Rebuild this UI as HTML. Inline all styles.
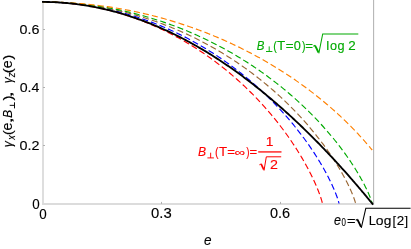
<!DOCTYPE html>
<html><head><meta charset="utf-8"><title>plot</title>
<style>
html,body{margin:0;padding:0;background:#fff;}
body{width:411px;height:249px;overflow:hidden;font-family:"Liberation Sans",sans-serif;}
svg{display:block;will-change:transform;}
text{font-family:"Liberation Sans",sans-serif;font-size:13.5px;fill:#000;stroke:#000;stroke-width:0.12px;}
.i{font-style:italic;}
</style></head><body>
<svg width="411" height="249" viewBox="0 0 411 249">
<rect width="411" height="249" fill="#fff"/>
<rect x="42" y="0.6" width="2" height="204.4" fill="#dedede"/>
<rect x="42" y="203" width="332" height="2" fill="#dcdcdc"/>
<rect x="373" y="0" width="1.15" height="204.6" fill="#b8b8b8"/>
<g fill="#b0b0b0">
<rect x="161" y="201.9" width="1" height="2.1"/>
<rect x="280" y="201.9" width="1" height="2.1"/>
<rect x="43" y="29" width="2" height="1"/>
<rect x="43" y="87" width="2" height="1"/>
<rect x="43" y="145" width="2" height="1"/>
</g>
<path d="M42.00 1.93 L43.47 1.94 L44.94 1.95 L46.40 1.97 L47.87 2.00 L49.34 2.03 L50.81 2.08 L52.28 2.13 L53.74 2.19 L55.21 2.26 L56.68 2.33 L58.14 2.41 L59.61 2.51 L61.07 2.61 L62.54 2.71 L64.00 2.83 L65.47 2.95 L66.93 3.08 L68.39 3.22 L69.85 3.37 L71.31 3.52 L72.77 3.69 L74.23 3.86 L75.69 4.04 L77.15 4.22 L78.60 4.42 L80.06 4.62 L81.51 4.83 L82.97 5.05 L84.42 5.27 L85.87 5.51 L87.32 5.75 L88.77 6.00 L90.22 6.25 L91.66 6.52 L93.11 6.79 L94.55 7.07 L95.99 7.36 L97.43 7.65 L98.87 7.95 L100.31 8.26 L101.74 8.58 L103.18 8.91 L104.61 9.24 L106.04 9.58 L107.47 9.93 L108.89 10.29 L110.32 10.65 L111.74 11.02 L113.16 11.40 L114.58 11.78 L116.00 12.18 L117.42 12.58 L118.83 12.99 L120.24 13.40 L121.65 13.82 L123.06 14.25 L124.46 14.69 L125.86 15.14 L127.26 15.59 L128.66 16.05 L130.06 16.51 L131.45 16.99 L132.84 17.47 L134.23 17.95 L135.61 18.45 L137.00 18.95 L138.38 19.46 L139.75 19.98 L141.13 20.50 L142.50 21.03 L143.87 21.56 L145.24 22.11 L146.60 22.66 L147.96 23.22 L149.32 23.78 L150.67 24.35 L152.03 24.93 L153.38 25.51 L154.72 26.10 L156.06 26.70 L157.40 27.30 L158.74 27.91 L160.07 28.53 L161.40 29.15 L162.73 29.78 L164.06 30.42 L165.38 31.06 L166.69 31.71 L168.01 32.36 L169.32 33.03 L170.62 33.69 L171.93 34.37 L173.23 35.05 L174.52 35.73 L175.81 36.42 L177.10 37.12 L178.39 37.83 L179.67 38.54 L180.95 39.25 L182.22 39.97 L183.49 40.70 L184.75 41.43 L186.02 42.17 L187.27 42.92 L188.53 43.67 L189.78 44.42 L191.02 45.18 L192.27 45.95 L193.50 46.72 L194.74 47.50 L195.97 48.28 L197.19 49.07 L198.41 49.86 L199.63 50.66 L200.84 51.46 L202.05 52.27 L203.25 53.08 L204.45 53.90 L205.65 54.73 L206.84 55.55 L208.02 56.39 L209.20 57.23 L210.38 58.07 L211.55 58.91 L212.72 59.77 L213.88 60.62 L215.04 61.48 L216.19 62.35 L217.34 63.22 L218.49 64.09 L219.62 64.97 L220.76 65.85 L221.89 66.74 L223.01 67.63 L224.13 68.52 L225.24 69.42 L226.35 70.32 L227.46 71.23 L228.56 72.14 L229.65 73.05 L230.74 73.97 L231.82 74.89 L232.90 75.82 L233.97 76.75 L235.04 77.68 L236.10 78.61 L237.16 79.55 L238.21 80.49 L239.26 81.44 L240.30 82.38 L241.34 83.33 L242.37 84.29 L243.39 85.24 L244.41 86.20 L245.42 87.16 L246.43 88.13 L247.43 89.10 L248.43 90.06 L249.42 91.04 L250.41 92.01 L251.39 92.99 L252.36 93.97 L253.33 94.95 L254.29 95.93 L255.25 96.92 L256.20 97.90 L257.14 98.89 L258.08 99.88 L259.01 100.87 L259.94 101.87 L260.86 102.86 L261.78 103.86 L262.69 104.86 L263.59 105.86 L264.49 106.86 L265.38 107.86 L266.26 108.87 L267.14 109.87 L268.01 110.87 L268.88 111.88 L269.74 112.89 L270.59 113.89 L271.44 114.90 L272.28 115.91 L273.12 116.92 L273.95 117.93 L274.77 118.94 L275.58 119.94 L276.39 120.95 L277.20 121.96 L277.99 122.97 L278.78 123.98 L279.57 124.99 L280.34 126.00 L281.11 127.00 L281.88 128.01 L282.63 129.02 L283.39 130.02 L284.13 131.03 L284.87 132.03 L285.60 133.03 L286.32 134.03 L287.04 135.03 L287.75 136.03 L288.45 137.03 L289.15 138.02 L289.84 139.01 L290.53 140.00 L291.20 140.99 L291.87 141.98 L292.54 142.97 L293.19 143.95 L293.84 144.93 L294.48 145.91 L295.12 146.88 L295.75 147.86 L296.37 148.83 L296.98 149.79 L297.59 150.76 L298.19 151.72 L298.79 152.68 L299.37 153.63 L299.95 154.58 L300.53 155.53 L301.09 156.47 L301.65 157.41 L302.20 158.34 L302.75 159.27 L303.28 160.20 L303.81 161.12 L304.33 162.04 L304.85 162.95 L305.36 163.86 L305.86 164.76 L306.35 165.66 L306.84 166.55 L307.32 167.44 L307.79 168.32 L308.26 169.20 L308.71 170.07 L309.16 170.93 L309.61 171.79 L310.04 172.64 L310.47 173.49 L310.89 174.32 L311.30 175.16 L311.71 175.98 L312.11 176.80 L312.50 177.61 L312.88 178.41 L313.26 179.21 L313.63 179.99 L313.99 180.77 L314.34 181.55 L314.69 182.31 L315.03 183.06 L315.36 183.81 L315.68 184.54 L316.00 185.27 L316.31 185.99 L316.61 186.70 L316.91 187.40 L317.19 188.08 L317.47 188.76 L317.74 189.43 L318.01 190.09 L318.26 190.73 L318.51 191.37 L318.75 191.99 L318.99 192.60 L319.21 193.20 L319.43 193.79 L319.64 194.36 L319.84 194.93 L320.04 195.47 L320.23 196.01 L320.41 196.53 L320.58 197.04 L320.74 197.53 L320.90 198.01 L321.05 198.47 L321.19 198.91 L321.33 199.34 L321.46 199.75 L321.57 200.15 L321.69 200.53 L321.79 200.89 L321.89 201.23 L321.97 201.55 L322.05 201.85 L322.13 202.13 L322.19 202.39 L322.25 202.62 L322.30 202.83 L322.34 203.02 L322.38 203.18 L322.40 203.31 L322.42 203.41 L322.43 203.47 L322.44 203.50" fill="none" stroke="#ff0000" stroke-width="1.15" stroke-dasharray="6.1 3.1" stroke-dashoffset="-1.5"/>
<path d="M42.00 1.93 L43.56 1.94 L45.11 1.95 L46.67 1.97 L48.22 2.00 L49.78 2.03 L51.33 2.08 L52.88 2.13 L54.44 2.19 L55.99 2.26 L57.54 2.33 L59.10 2.41 L60.65 2.51 L62.20 2.61 L63.75 2.71 L65.30 2.83 L66.85 2.95 L68.40 3.08 L69.95 3.22 L71.50 3.37 L73.05 3.52 L74.59 3.69 L76.14 3.86 L77.68 4.04 L79.23 4.22 L80.77 4.42 L82.31 4.62 L83.85 4.83 L85.39 5.05 L86.93 5.27 L88.46 5.51 L90.00 5.75 L91.53 6.00 L93.07 6.25 L94.60 6.52 L96.13 6.79 L97.66 7.07 L99.18 7.36 L100.71 7.65 L102.23 7.95 L103.75 8.26 L105.27 8.58 L106.79 8.91 L108.31 9.24 L109.83 9.58 L111.34 9.93 L112.85 10.29 L114.36 10.65 L115.87 11.02 L117.37 11.40 L118.88 11.78 L120.38 12.18 L121.88 12.58 L123.37 12.99 L124.87 13.40 L126.36 13.82 L127.85 14.25 L129.34 14.69 L130.82 15.14 L132.30 15.59 L133.79 16.05 L135.26 16.51 L136.74 16.99 L138.21 17.47 L139.68 17.95 L141.15 18.45 L142.61 18.95 L144.07 19.46 L145.53 19.98 L146.99 20.50 L148.44 21.03 L149.89 21.56 L151.34 22.11 L152.79 22.66 L154.23 23.22 L155.67 23.78 L157.10 24.35 L158.53 24.93 L159.96 25.51 L161.39 26.10 L162.81 26.70 L164.23 27.30 L165.64 27.91 L167.06 28.53 L168.47 29.15 L169.87 29.78 L171.27 30.42 L172.67 31.06 L174.07 31.71 L175.46 32.36 L176.85 33.03 L178.23 33.69 L179.61 34.37 L180.99 35.05 L182.36 35.73 L183.73 36.42 L185.09 37.12 L186.45 37.83 L187.81 38.54 L189.16 39.25 L190.51 39.97 L191.86 40.70 L193.20 41.43 L194.53 42.17 L195.87 42.92 L197.19 43.67 L198.52 44.42 L199.84 45.18 L201.15 45.95 L202.46 46.72 L203.77 47.50 L205.07 48.28 L206.37 49.07 L207.66 49.86 L208.95 50.66 L210.24 51.46 L211.51 52.27 L212.79 53.08 L214.06 53.90 L215.33 54.73 L216.59 55.55 L217.84 56.39 L219.09 57.23 L220.34 58.07 L221.58 58.91 L222.82 59.77 L224.05 60.62 L225.27 61.48 L226.50 62.35 L227.71 63.22 L228.92 64.09 L230.13 64.97 L231.33 65.85 L232.53 66.74 L233.72 67.63 L234.90 68.52 L236.08 69.42 L237.26 70.32 L238.42 71.23 L239.59 72.14 L240.75 73.05 L241.90 73.97 L243.05 74.89 L244.19 75.82 L245.33 76.75 L246.46 77.68 L247.58 78.61 L248.70 79.55 L249.82 80.49 L250.92 81.44 L252.03 82.38 L253.12 83.33 L254.21 84.29 L255.30 85.24 L256.38 86.20 L257.45 87.16 L258.52 88.13 L259.58 89.10 L260.64 90.06 L261.69 91.04 L262.73 92.01 L263.77 92.99 L264.80 93.97 L265.83 94.95 L266.84 95.93 L267.86 96.92 L268.86 97.90 L269.87 98.89 L270.86 99.88 L271.85 100.87 L272.83 101.87 L273.81 102.86 L274.77 103.86 L275.74 104.86 L276.69 105.86 L277.64 106.86 L278.59 107.86 L279.52 108.87 L280.46 109.87 L281.38 110.87 L282.30 111.88 L283.21 112.89 L284.11 113.89 L285.01 114.90 L285.90 115.91 L286.78 116.92 L287.66 117.93 L288.53 118.94 L289.40 119.94 L290.25 120.95 L291.10 121.96 L291.95 122.97 L292.78 123.98 L293.61 124.99 L294.44 126.00 L295.25 127.00 L296.06 128.01 L296.86 129.02 L297.66 130.02 L298.45 131.03 L299.23 132.03 L300.00 133.03 L300.77 134.03 L301.53 135.03 L302.28 136.03 L303.03 137.03 L303.77 138.02 L304.50 139.01 L305.22 140.00 L305.94 140.99 L306.65 141.98 L307.35 142.97 L308.05 143.95 L308.73 144.93 L309.42 145.91 L310.09 146.88 L310.75 147.86 L311.41 148.83 L312.06 149.79 L312.71 150.76 L313.34 151.72 L313.97 152.68 L314.59 153.63 L315.21 154.58 L315.81 155.53 L316.41 156.47 L317.00 157.41 L317.59 158.34 L318.16 159.27 L318.73 160.20 L319.29 161.12 L319.85 162.04 L320.39 162.95 L320.93 163.86 L321.46 164.76 L321.99 165.66 L322.50 166.55 L323.01 167.44 L323.51 168.32 L324.00 169.20 L324.49 170.07 L324.96 170.93 L325.43 171.79 L325.89 172.64 L326.35 173.49 L326.79 174.32 L327.23 175.16 L327.66 175.98 L328.08 176.80 L328.50 177.61 L328.90 178.41 L329.30 179.21 L329.69 179.99 L330.07 180.77 L330.45 181.55 L330.82 182.31 L331.18 183.06 L331.53 183.81 L331.87 184.54 L332.20 185.27 L332.53 185.99 L332.85 186.70 L333.16 187.40 L333.47 188.08 L333.76 188.76 L334.05 189.43 L334.33 190.09 L334.60 190.73 L334.86 191.37 L335.12 191.99 L335.37 192.60 L335.61 193.20 L335.84 193.79 L336.06 194.36 L336.27 194.93 L336.48 195.47 L336.68 196.01 L336.87 196.53 L337.05 197.04 L337.23 197.53 L337.40 198.01 L337.55 198.47 L337.70 198.91 L337.85 199.34 L337.98 199.75 L338.11 200.15 L338.23 200.53 L338.33 200.89 L338.44 201.23 L338.53 201.55 L338.62 201.85 L338.69 202.13 L338.76 202.39 L338.82 202.62 L338.88 202.83 L338.92 203.02 L338.96 203.18 L338.99 203.31 L339.01 203.41 L339.02 203.47 L339.02 203.50" fill="none" stroke="#0000ff" stroke-width="1.15" stroke-dasharray="6.1 3.1" stroke-dashoffset="-1"/>
<path d="M42.00 1.93 L43.64 1.94 L45.28 1.95 L46.93 1.97 L48.57 2.00 L50.21 2.03 L51.85 2.08 L53.49 2.13 L55.13 2.19 L56.77 2.26 L58.41 2.33 L60.05 2.41 L61.69 2.51 L63.33 2.61 L64.97 2.71 L66.61 2.83 L68.24 2.95 L69.88 3.08 L71.51 3.22 L73.15 3.37 L74.78 3.52 L76.41 3.69 L78.05 3.86 L79.68 4.04 L81.31 4.22 L82.93 4.42 L84.56 4.62 L86.19 4.83 L87.81 5.05 L89.44 5.27 L91.06 5.51 L92.68 5.75 L94.30 6.00 L95.92 6.25 L97.54 6.52 L99.15 6.79 L100.76 7.07 L102.38 7.36 L103.99 7.65 L105.60 7.95 L107.20 8.26 L108.81 8.58 L110.41 8.91 L112.01 9.24 L113.61 9.58 L115.21 9.93 L116.81 10.29 L118.40 10.65 L119.99 11.02 L121.58 11.40 L123.17 11.78 L124.75 12.18 L126.34 12.58 L127.92 12.99 L129.49 13.40 L131.07 13.82 L132.64 14.25 L134.21 14.69 L135.78 15.14 L137.35 15.59 L138.91 16.05 L140.47 16.51 L142.03 16.99 L143.58 17.47 L145.13 17.95 L146.68 18.45 L148.23 18.95 L149.77 19.46 L151.31 19.98 L152.85 20.50 L154.39 21.03 L155.92 21.56 L157.45 22.11 L158.97 22.66 L160.49 23.22 L162.01 23.78 L163.53 24.35 L165.04 24.93 L166.55 25.51 L168.05 26.10 L169.56 26.70 L171.05 27.30 L172.55 27.91 L174.04 28.53 L175.53 29.15 L177.01 29.78 L178.49 30.42 L179.97 31.06 L181.44 31.71 L182.91 32.36 L184.37 33.03 L185.84 33.69 L187.29 34.37 L188.75 35.05 L190.20 35.73 L191.64 36.42 L193.08 37.12 L194.52 37.83 L195.95 38.54 L197.38 39.25 L198.80 39.97 L200.22 40.70 L201.64 41.43 L203.05 42.17 L204.46 42.92 L205.86 43.67 L207.26 44.42 L208.65 45.18 L210.04 45.95 L211.42 46.72 L212.80 47.50 L214.18 48.28 L215.55 49.07 L216.91 49.86 L218.27 50.66 L219.63 51.46 L220.98 52.27 L222.33 53.08 L223.67 53.90 L225.00 54.73 L226.33 55.55 L227.66 56.39 L228.98 57.23 L230.30 58.07 L231.61 58.91 L232.91 59.77 L234.21 60.62 L235.51 61.48 L236.80 62.35 L238.08 63.22 L239.36 64.09 L240.63 64.97 L241.90 65.85 L243.16 66.74 L244.42 67.63 L245.67 68.52 L246.92 69.42 L248.16 70.32 L249.39 71.23 L250.62 72.14 L251.84 73.05 L253.06 73.97 L254.27 74.89 L255.48 75.82 L256.68 76.75 L257.87 77.68 L259.06 78.61 L260.24 79.55 L261.42 80.49 L262.59 81.44 L263.75 82.38 L264.91 83.33 L266.06 84.29 L267.21 85.24 L268.35 86.20 L269.48 87.16 L270.61 88.13 L271.73 89.10 L272.85 90.06 L273.95 91.04 L275.06 92.01 L276.15 92.99 L277.24 93.97 L278.32 94.95 L279.40 95.93 L280.47 96.92 L281.53 97.90 L282.59 98.89 L283.64 99.88 L284.68 100.87 L285.72 101.87 L286.75 102.86 L287.77 103.86 L288.79 104.86 L289.80 105.86 L290.80 106.86 L291.80 107.86 L292.79 108.87 L293.77 109.87 L294.74 110.87 L295.71 111.88 L296.68 112.89 L297.63 113.89 L298.58 114.90 L299.52 115.91 L300.45 116.92 L301.38 117.93 L302.30 118.94 L303.21 119.94 L304.12 120.95 L305.01 121.96 L305.90 122.97 L306.79 123.98 L307.66 124.99 L308.53 126.00 L309.39 127.00 L310.25 128.01 L311.10 129.02 L311.93 130.02 L312.77 131.03 L313.59 132.03 L314.41 133.03 L315.22 134.03 L316.02 135.03 L316.82 136.03 L317.60 137.03 L318.38 138.02 L319.16 139.01 L319.92 140.00 L320.68 140.99 L321.43 141.98 L322.17 142.97 L322.90 143.95 L323.63 144.93 L324.35 145.91 L325.06 146.88 L325.76 147.86 L326.46 148.83 L327.14 149.79 L327.82 150.76 L328.49 151.72 L329.16 152.68 L329.81 153.63 L330.46 154.58 L331.10 155.53 L331.74 156.47 L332.36 157.41 L332.98 158.34 L333.58 159.27 L334.18 160.20 L334.78 161.12 L335.36 162.04 L335.94 162.95 L336.51 163.86 L337.07 164.76 L337.62 165.66 L338.16 166.55 L338.70 167.44 L339.23 168.32 L339.75 169.20 L340.26 170.07 L340.76 170.93 L341.26 171.79 L341.74 172.64 L342.22 173.49 L342.69 174.32 L343.15 175.16 L343.61 175.98 L344.05 176.80 L344.49 177.61 L344.92 178.41 L345.34 179.21 L345.75 179.99 L346.16 180.77 L346.55 181.55 L346.94 182.31 L347.32 183.06 L347.69 183.81 L348.05 184.54 L348.41 185.27 L348.75 185.99 L349.09 186.70 L349.42 187.40 L349.74 188.08 L350.05 188.76 L350.36 189.43 L350.65 190.09 L350.94 190.73 L351.22 191.37 L351.48 191.99 L351.75 192.60 L352.00 193.20 L352.24 193.79 L352.48 194.36 L352.71 194.93 L352.92 195.47 L353.13 196.01 L353.34 196.53 L353.53 197.04 L353.71 197.53 L353.89 198.01 L354.06 198.47 L354.22 198.91 L354.37 199.34 L354.51 199.75 L354.64 200.15 L354.76 200.53 L354.88 200.89 L354.99 201.23 L355.09 201.55 L355.18 201.85 L355.26 202.13 L355.33 202.39 L355.40 202.62 L355.45 202.83 L355.50 203.02 L355.54 203.18 L355.57 203.31 L355.59 203.41 L355.60 203.47 L355.61 203.50" fill="none" stroke="#996633" stroke-width="1.15" stroke-dasharray="6.1 3.1" stroke-dashoffset="-1.4"/>
<path d="M42.00 1.93 L43.73 1.94 L45.46 1.95 L47.19 1.97 L48.92 2.00 L50.64 2.03 L52.37 2.08 L54.10 2.13 L55.83 2.19 L57.55 2.26 L59.28 2.33 L61.01 2.41 L62.73 2.51 L64.46 2.61 L66.18 2.71 L67.91 2.83 L69.63 2.95 L71.35 3.08 L73.07 3.22 L74.79 3.37 L76.51 3.52 L78.23 3.69 L79.95 3.86 L81.67 4.04 L83.38 4.22 L85.10 4.42 L86.81 4.62 L88.52 4.83 L90.24 5.05 L91.94 5.27 L93.65 5.51 L95.36 5.75 L97.07 6.00 L98.77 6.25 L100.47 6.52 L102.17 6.79 L103.87 7.07 L105.57 7.36 L107.26 7.65 L108.96 7.95 L110.65 8.26 L112.34 8.58 L114.03 8.91 L115.72 9.24 L117.40 9.58 L119.08 9.93 L120.76 10.29 L122.44 10.65 L124.12 11.02 L125.79 11.40 L127.46 11.78 L129.13 12.18 L130.79 12.58 L132.46 12.99 L134.12 13.40 L135.78 13.82 L137.44 14.25 L139.09 14.69 L140.74 15.14 L142.39 15.59 L144.03 16.05 L145.68 16.51 L147.32 16.99 L148.95 17.47 L150.59 17.95 L152.22 18.45 L153.85 18.95 L155.47 19.46 L157.10 19.98 L158.71 20.50 L160.33 21.03 L161.94 21.56 L163.55 22.11 L165.16 22.66 L166.76 23.22 L168.36 23.78 L169.95 24.35 L171.55 24.93 L173.13 25.51 L174.72 26.10 L176.30 26.70 L177.88 27.30 L179.45 27.91 L181.02 28.53 L182.59 29.15 L184.15 29.78 L185.71 30.42 L187.26 31.06 L188.81 31.71 L190.36 32.36 L191.90 33.03 L193.44 33.69 L194.98 34.37 L196.51 35.05 L198.03 35.73 L199.55 36.42 L201.07 37.12 L202.58 37.83 L204.09 38.54 L205.60 39.25 L207.10 39.97 L208.59 40.70 L210.08 41.43 L211.57 42.17 L213.05 42.92 L214.52 43.67 L216.00 44.42 L217.46 45.18 L218.93 45.95 L220.38 46.72 L221.83 47.50 L223.28 48.28 L224.72 49.07 L226.16 49.86 L227.59 50.66 L229.02 51.46 L230.44 52.27 L231.86 53.08 L233.27 53.90 L234.68 54.73 L236.08 55.55 L237.48 56.39 L238.87 57.23 L240.25 58.07 L241.63 58.91 L243.01 59.77 L244.38 60.62 L245.74 61.48 L247.10 62.35 L248.45 63.22 L249.80 64.09 L251.14 64.97 L252.47 65.85 L253.80 66.74 L255.12 67.63 L256.44 68.52 L257.75 69.42 L259.06 70.32 L260.36 71.23 L261.65 72.14 L262.94 73.05 L264.22 73.97 L265.50 74.89 L266.77 75.82 L268.03 76.75 L269.29 77.68 L270.54 78.61 L271.78 79.55 L273.02 80.49 L274.25 81.44 L275.48 82.38 L276.70 83.33 L277.91 84.29 L279.12 85.24 L280.32 86.20 L281.51 87.16 L282.70 88.13 L283.88 89.10 L285.05 90.06 L286.22 91.04 L287.38 92.01 L288.53 92.99 L289.68 93.97 L290.82 94.95 L291.95 95.93 L293.08 96.92 L294.20 97.90 L295.31 98.89 L296.42 99.88 L297.52 100.87 L298.61 101.87 L299.69 102.86 L300.77 103.86 L301.84 104.86 L302.90 105.86 L303.96 106.86 L305.01 107.86 L306.05 108.87 L307.08 109.87 L308.11 110.87 L309.13 111.88 L310.14 112.89 L311.15 113.89 L312.15 114.90 L313.14 115.91 L314.12 116.92 L315.09 117.93 L316.06 118.94 L317.02 119.94 L317.98 120.95 L318.92 121.96 L319.86 122.97 L320.79 123.98 L321.71 124.99 L322.63 126.00 L323.53 127.00 L324.43 128.01 L325.33 129.02 L326.21 130.02 L327.09 131.03 L327.95 132.03 L328.81 133.03 L329.67 134.03 L330.51 135.03 L331.35 136.03 L332.18 137.03 L333.00 138.02 L333.81 139.01 L334.62 140.00 L335.41 140.99 L336.20 141.98 L336.98 142.97 L337.76 143.95 L338.52 144.93 L339.28 145.91 L340.03 146.88 L340.77 147.86 L341.50 148.83 L342.22 149.79 L342.94 150.76 L343.64 151.72 L344.34 152.68 L345.03 153.63 L345.72 154.58 L346.39 155.53 L347.06 156.47 L347.71 157.41 L348.36 158.34 L349.00 159.27 L349.64 160.20 L350.26 161.12 L350.88 162.04 L351.48 162.95 L352.08 163.86 L352.67 164.76 L353.25 165.66 L353.82 166.55 L354.39 167.44 L354.94 168.32 L355.49 169.20 L356.03 170.07 L356.56 170.93 L357.08 171.79 L357.59 172.64 L358.10 173.49 L358.59 174.32 L359.08 175.16 L359.56 175.98 L360.03 176.80 L360.49 177.61 L360.94 178.41 L361.38 179.21 L361.82 179.99 L362.24 180.77 L362.66 181.55 L363.07 182.31 L363.47 183.06 L363.86 183.81 L364.24 184.54 L364.61 185.27 L364.98 185.99 L365.33 186.70 L365.68 187.40 L366.01 188.08 L366.34 188.76 L366.66 189.43 L366.97 190.09 L367.27 190.73 L367.57 191.37 L367.85 191.99 L368.13 192.60 L368.39 193.20 L368.65 193.79 L368.90 194.36 L369.14 194.93 L369.37 195.47 L369.59 196.01 L369.80 196.53 L370.00 197.04 L370.20 197.53 L370.38 198.01 L370.56 198.47 L370.73 198.91 L370.88 199.34 L371.03 199.75 L371.17 200.15 L371.30 200.53 L371.43 200.89 L371.54 201.23 L371.64 201.55 L371.74 201.85 L371.82 202.13 L371.90 202.39 L371.97 202.62 L372.03 202.83 L372.08 203.02 L372.12 203.18 L372.15 203.31 L372.17 203.41 L372.19 203.47 L372.19 203.50" fill="none" stroke="#00aa00" stroke-width="1.15" stroke-dasharray="6.1 3.1" stroke-dashoffset="-0.6"/>
<path d="M42.00 1.93 L43.73 1.94 L45.46 1.95 L47.19 1.96 L48.92 1.99 L50.64 2.02 L52.37 2.05 L54.10 2.09 L55.83 2.14 L57.55 2.20 L59.28 2.26 L61.01 2.33 L62.73 2.41 L64.46 2.49 L66.18 2.58 L67.91 2.67 L69.63 2.78 L71.35 2.89 L73.07 3.00 L74.79 3.12 L76.51 3.25 L78.23 3.38 L79.95 3.53 L81.67 3.67 L83.38 3.83 L85.10 3.99 L86.81 4.16 L88.52 4.33 L90.24 4.51 L91.94 4.70 L93.65 4.89 L95.36 5.09 L97.07 5.29 L98.77 5.51 L100.47 5.72 L102.17 5.95 L103.87 6.18 L105.57 6.42 L107.26 6.66 L108.96 6.91 L110.65 7.17 L112.34 7.43 L114.03 7.70 L115.72 7.97 L117.40 8.26 L119.08 8.54 L120.76 8.84 L122.44 9.14 L124.12 9.44 L125.79 9.75 L127.46 10.07 L129.13 10.40 L130.79 10.73 L132.46 11.06 L134.12 11.41 L135.78 11.75 L137.44 12.11 L139.09 12.47 L140.74 12.83 L142.39 13.21 L144.03 13.58 L145.68 13.97 L147.32 14.36 L148.95 14.75 L150.59 15.15 L152.22 15.56 L153.85 15.97 L155.47 16.39 L157.10 16.81 L158.71 17.24 L160.33 17.68 L161.94 18.12 L163.55 18.57 L165.16 19.02 L166.76 19.47 L168.36 19.94 L169.95 20.40 L171.55 20.88 L173.13 21.36 L174.72 21.84 L176.30 22.33 L177.88 22.82 L179.45 23.32 L181.02 23.83 L182.59 24.34 L184.15 24.85 L185.71 25.37 L187.26 25.90 L188.81 26.43 L190.36 26.96 L191.90 27.50 L193.44 28.05 L194.98 28.60 L196.51 29.15 L198.03 29.71 L199.55 30.27 L201.07 30.84 L202.58 31.42 L204.09 31.99 L205.60 32.58 L207.10 33.16 L208.59 33.75 L210.08 34.35 L211.57 34.95 L213.05 35.55 L214.52 36.16 L216.00 36.78 L217.46 37.39 L218.93 38.01 L220.38 38.64 L221.83 39.27 L223.28 39.90 L224.72 40.54 L226.16 41.18 L227.59 41.83 L229.02 42.47 L230.44 43.13 L231.86 43.78 L233.27 44.44 L234.68 45.11 L236.08 45.77 L237.48 46.45 L238.87 47.12 L240.25 47.80 L241.63 48.48 L243.01 49.16 L244.38 49.85 L245.74 50.54 L247.10 51.23 L248.45 51.93 L249.80 52.63 L251.14 53.33 L252.47 54.04 L253.80 54.75 L255.12 55.46 L256.44 56.17 L257.75 56.89 L259.06 57.61 L260.36 58.33 L261.65 59.06 L262.94 59.78 L264.22 60.51 L265.50 61.24 L266.77 61.98 L268.03 62.71 L269.29 63.45 L270.54 64.19 L271.78 64.93 L273.02 65.68 L274.25 66.42 L275.48 67.17 L276.70 67.92 L277.91 68.67 L279.12 69.42 L280.32 70.18 L281.51 70.93 L282.70 71.69 L283.88 72.45 L285.05 73.21 L286.22 73.97 L287.38 74.73 L288.53 75.49 L289.68 76.25 L290.82 77.02 L291.95 77.78 L293.08 78.55 L294.20 79.32 L295.31 80.08 L296.42 80.85 L297.52 81.62 L298.61 82.39 L299.69 83.16 L300.77 83.92 L301.84 84.69 L302.90 85.46 L303.96 86.23 L305.01 87.00 L306.05 87.77 L307.08 88.54 L308.11 89.30 L309.13 90.07 L310.14 90.84 L311.15 91.60 L312.15 92.37 L313.14 93.13 L314.12 93.90 L315.09 94.66 L316.06 95.42 L317.02 96.18 L317.98 96.94 L318.92 97.70 L319.86 98.46 L320.79 99.21 L321.71 99.97 L322.63 100.72 L323.53 101.47 L324.43 102.22 L325.33 102.96 L326.21 103.71 L327.09 104.45 L327.95 105.19 L328.81 105.92 L329.67 106.66 L330.51 107.39 L331.35 108.12 L332.18 108.85 L333.00 109.57 L333.81 110.29 L334.62 111.01 L335.41 111.73 L336.20 112.44 L336.98 113.15 L337.76 113.85 L338.52 114.55 L339.28 115.25 L340.03 115.95 L340.77 116.64 L341.50 117.32 L342.22 118.01 L342.94 118.68 L343.64 119.36 L344.34 120.03 L345.03 120.69 L345.72 121.35 L346.39 122.01 L347.06 122.66 L347.71 123.31 L348.36 123.95 L349.00 124.58 L349.64 125.21 L350.26 125.84 L350.88 126.46 L351.48 127.07 L352.08 127.68 L352.67 128.28 L353.25 128.88 L353.82 129.47 L354.39 130.06 L354.94 130.64 L355.49 131.21 L356.03 131.77 L356.56 132.33 L357.08 132.89 L357.59 133.43 L358.10 133.97 L358.59 134.50 L359.08 135.03 L359.56 135.55 L360.03 136.06 L360.49 136.56 L360.94 137.06 L361.38 137.54 L361.82 138.02 L362.24 138.49 L362.66 138.96 L363.07 139.42 L363.47 139.86 L363.86 140.30 L364.24 140.73 L364.61 141.16 L364.98 141.57 L365.33 141.98 L365.68 142.37 L366.01 142.76 L366.34 143.14 L366.66 143.51 L366.97 143.87 L367.27 144.22 L367.57 144.56 L367.85 144.89 L368.13 145.21 L368.39 145.53 L368.65 145.83 L368.90 146.12 L369.14 146.41 L369.37 146.68 L369.59 146.94 L369.80 147.20 L370.00 147.44 L370.20 147.67 L370.38 147.89 L370.56 148.10 L370.73 148.31 L370.88 148.50 L371.03 148.68 L371.17 148.85 L371.30 149.01 L371.43 149.15 L371.54 149.29 L371.64 149.42 L371.74 149.53 L371.82 149.64 L371.90 149.73 L371.97 149.81 L372.03 149.89 L372.08 149.95 L372.12 150.00 L372.15 150.04 L372.17 150.06 L372.19 150.08 L372.19 150.09" fill="none" stroke="#ff8000" stroke-width="1.15" stroke-dasharray="6.1 3.1" stroke-dashoffset="-0.6"/>
<path d="M42.00 1.93 L43.73 1.94 L45.46 1.95 L47.19 1.98 L48.92 2.02 L50.64 2.07 L52.37 2.13 L54.10 2.20 L55.83 2.29 L57.55 2.38 L59.28 2.48 L61.01 2.60 L62.73 2.73 L64.46 2.87 L66.18 3.01 L67.91 3.17 L69.63 3.34 L71.35 3.53 L73.07 3.72 L74.79 3.92 L76.51 4.14 L78.23 4.36 L79.95 4.60 L81.67 4.84 L83.38 5.10 L85.10 5.37 L86.81 5.65 L88.52 5.93 L90.24 6.23 L91.94 6.54 L93.65 6.87 L95.36 7.20 L97.07 7.54 L98.77 7.89 L100.47 8.25 L102.17 8.63 L103.87 9.01 L105.57 9.40 L107.26 9.81 L108.96 10.22 L110.65 10.65 L112.34 11.08 L114.03 11.52 L115.72 11.98 L117.40 12.44 L119.08 12.92 L120.76 13.40 L122.44 13.90 L124.12 14.40 L125.79 14.91 L127.46 15.44 L129.13 15.97 L130.79 16.51 L132.46 17.06 L134.12 17.62 L135.78 18.19 L137.44 18.77 L139.09 19.36 L140.74 19.96 L142.39 20.56 L144.03 21.18 L145.68 21.81 L147.32 22.44 L148.95 23.08 L150.59 23.73 L152.22 24.39 L153.85 25.06 L155.47 25.74 L157.10 26.42 L158.71 27.12 L160.33 27.82 L161.94 28.53 L163.55 29.25 L165.16 29.97 L166.76 30.71 L168.36 31.45 L169.95 32.20 L171.55 32.96 L173.13 33.73 L174.72 34.50 L176.30 35.28 L177.88 36.07 L179.45 36.86 L181.02 37.66 L182.59 38.47 L184.15 39.29 L185.71 40.11 L187.26 40.95 L188.81 41.78 L190.36 42.63 L191.90 43.48 L193.44 44.33 L194.98 45.20 L196.51 46.07 L198.03 46.94 L199.55 47.83 L201.07 48.71 L202.58 49.61 L204.09 50.51 L205.60 51.41 L207.10 52.32 L208.59 53.24 L210.08 54.16 L211.57 55.09 L213.05 56.02 L214.52 56.96 L216.00 57.90 L217.46 58.85 L218.93 59.80 L220.38 60.76 L221.83 61.72 L223.28 62.69 L224.72 63.66 L226.16 64.64 L227.59 65.62 L229.02 66.60 L230.44 67.59 L231.86 68.58 L233.27 69.57 L234.68 70.57 L236.08 71.57 L237.48 72.58 L238.87 73.59 L240.25 74.60 L241.63 75.61 L243.01 76.63 L244.38 77.65 L245.74 78.68 L247.10 79.70 L248.45 80.73 L249.80 81.76 L251.14 82.80 L252.47 83.83 L253.80 84.87 L255.12 85.91 L256.44 86.95 L257.75 87.99 L259.06 89.04 L260.36 90.08 L261.65 91.13 L262.94 92.18 L264.22 93.23 L265.50 94.28 L266.77 95.34 L268.03 96.39 L269.29 97.44 L270.54 98.50 L271.78 99.55 L273.02 100.61 L274.25 101.66 L275.48 102.72 L276.70 103.77 L277.91 104.83 L279.12 105.88 L280.32 106.94 L281.51 107.99 L282.70 109.04 L283.88 110.10 L285.05 111.15 L286.22 112.20 L287.38 113.25 L288.53 114.30 L289.68 115.35 L290.82 116.39 L291.95 117.44 L293.08 118.48 L294.20 119.52 L295.31 120.56 L296.42 121.60 L297.52 122.64 L298.61 123.67 L299.69 124.70 L300.77 125.73 L301.84 126.76 L302.90 127.78 L303.96 128.80 L305.01 129.82 L306.05 130.83 L307.08 131.85 L308.11 132.85 L309.13 133.86 L310.14 134.86 L311.15 135.86 L312.15 136.86 L313.14 137.85 L314.12 138.83 L315.09 139.82 L316.06 140.80 L317.02 141.77 L317.98 142.74 L318.92 143.71 L319.86 144.67 L320.79 145.63 L321.71 146.58 L322.63 147.53 L323.53 148.47 L324.43 149.41 L325.33 150.34 L326.21 151.27 L327.09 152.19 L327.95 153.11 L328.81 154.02 L329.67 154.93 L330.51 155.82 L331.35 156.72 L332.18 157.61 L333.00 158.49 L333.81 159.37 L334.62 160.23 L335.41 161.10 L336.20 161.96 L336.98 162.81 L337.76 163.65 L338.52 164.49 L339.28 165.32 L340.03 166.14 L340.77 166.96 L341.50 167.77 L342.22 168.57 L342.94 169.37 L343.64 170.15 L344.34 170.93 L345.03 171.71 L345.72 172.47 L346.39 173.23 L347.06 173.98 L347.71 174.72 L348.36 175.46 L349.00 176.18 L349.64 176.90 L350.26 177.61 L350.88 178.32 L351.48 179.01 L352.08 179.69 L352.67 180.37 L353.25 181.04 L353.82 181.70 L354.39 182.35 L354.94 182.99 L355.49 183.63 L356.03 184.25 L356.56 184.87 L357.08 185.47 L357.59 186.07 L358.10 186.66 L358.59 187.24 L359.08 187.81 L359.56 188.37 L360.03 188.92 L360.49 189.47 L360.94 190.00 L361.38 190.52 L361.82 191.03 L362.24 191.54 L362.66 192.03 L363.07 192.52 L363.47 192.99 L363.86 193.45 L364.24 193.91 L364.61 194.35 L364.98 194.79 L365.33 195.21 L365.68 195.63 L366.01 196.03 L366.34 196.42 L366.66 196.81 L366.97 197.18 L367.27 197.54 L367.57 197.89 L367.85 198.24 L368.13 198.57 L368.39 198.89 L368.65 199.20 L368.90 199.50 L369.14 199.79 L369.37 200.07 L369.59 200.33 L369.80 200.59 L370.00 200.84 L370.20 201.07 L370.38 201.30 L370.56 201.51 L370.73 201.71 L370.88 201.91 L371.03 202.09 L371.17 202.26 L371.30 202.42 L371.43 202.57 L371.54 202.71 L371.64 202.83 L371.74 202.95 L371.82 203.05 L371.90 203.15 L371.97 203.23 L372.03 203.30 L372.08 203.36 L372.12 203.41 L372.15 203.45 L372.17 203.48 L372.19 203.49 L372.19 203.50 L373.04 204.55" fill="none" stroke="#000" stroke-width="1.85"/>
<text x="19.64" y="33.70" textLength="19.89" lengthAdjust="spacingAndGlyphs">0.6</text>
<text x="19.65" y="91.70" textLength="19.67" lengthAdjust="spacingAndGlyphs">0.4</text>
<text x="19.64" y="149.60" textLength="19.98" lengthAdjust="spacingAndGlyphs">0.2</text>
<text x="32.28" y="208.70" textLength="7.45" lengthAdjust="spacingAndGlyphs" style="font-size:13.9px;">0</text>
<text x="39.18" y="218.50" textLength="7.45" lengthAdjust="spacingAndGlyphs" style="font-size:13.9px;">0</text>
<text x="151.02" y="218.30" textLength="20.63" lengthAdjust="spacingAndGlyphs" style="font-size:13.9px;">0.3</text>
<text x="270.04" y="218.30" textLength="20.10" lengthAdjust="spacingAndGlyphs" style="font-size:13.9px;">0.6</text>
<text x="204.04" y="245.00" textLength="7.56" lengthAdjust="spacingAndGlyphs" class="i" style="font-size:14px;">e</text>
<text x="334.08" y="224.60" textLength="6.99" lengthAdjust="spacingAndGlyphs" class="i" style="font-size:14px;">e</text>
<text x="341.49" y="226.40" textLength="4.42" lengthAdjust="spacingAndGlyphs" style="font-size:10.4px;">0</text>
<text x="346.99" y="224.60" textLength="8.53" lengthAdjust="spacingAndGlyphs" style="font-size:10.6px;">=</text>
<path d="M355.70 220.30 L357.70 219.30 M361.30 227.80 L365.80 208.30 L410.60 208.30" fill="none" stroke="#000" stroke-width="1.05" stroke-linejoin="miter"/><path d="M357.50 219.60 L361.05 226.90" fill="none" stroke="#000" stroke-width="1.90"/>
<text x="368.64" y="224.50" textLength="7.19" lengthAdjust="spacingAndGlyphs">L</text>
<text x="375.81" y="224.50" textLength="7.77" lengthAdjust="spacingAndGlyphs">o</text>
<text x="383.82" y="224.50" textLength="7.67" lengthAdjust="spacingAndGlyphs">g</text>
<text x="392.47" y="224.50" textLength="3.63" lengthAdjust="spacingAndGlyphs">[</text>
<text x="396.73" y="224.50" textLength="7.45" lengthAdjust="spacingAndGlyphs">2</text>
<text x="404.50" y="224.50" textLength="3.63" lengthAdjust="spacingAndGlyphs">]</text>
<text x="256.85" y="50.00" textLength="7.64" lengthAdjust="spacingAndGlyphs" class="i" style="fill:#00aa00;stroke:#00aa00;">B</text>
<path d="M266 51.5 H272.4 M269.2 51.5 V46.4" fill="none" stroke="#00aa00" stroke-width="0.95"/>
<text x="273.32" y="50.00" textLength="3.64" lengthAdjust="spacingAndGlyphs" style="fill:#00aa00;stroke:#00aa00;">(</text>
<text x="277.10" y="50.00" textLength="8.21" lengthAdjust="spacingAndGlyphs" style="fill:#00aa00;stroke:#00aa00;">T</text>
<text x="285.65" y="50.10" textLength="7.81" lengthAdjust="spacingAndGlyphs" style="font-size:10.6px;fill:#00aa00;stroke:#00aa00;">=</text>
<text x="293.70" y="50.00" textLength="7.10" lengthAdjust="spacingAndGlyphs" style="fill:#00aa00;stroke:#00aa00;">0</text>
<text x="301.94" y="50.00" textLength="3.52" lengthAdjust="spacingAndGlyphs" style="fill:#00aa00;stroke:#00aa00;">)</text>
<text x="305.36" y="50.10" textLength="7.69" lengthAdjust="spacingAndGlyphs" style="font-size:10.6px;fill:#00aa00;stroke:#00aa00;">=</text>
<path d="M313.30 46.30 L315.30 45.30 M318.80 53.40 L322.70 33.90 L358.30 33.90" fill="none" stroke="#00aa00" stroke-width="1.05" stroke-linejoin="miter"/><path d="M315.10 45.60 L318.55 52.50" fill="none" stroke="#00aa00" stroke-width="1.90"/>
<text x="326.28" y="50.00" textLength="3.03" lengthAdjust="spacingAndGlyphs" style="fill:#00aa00;stroke:#00aa00;">l</text>
<text x="329.97" y="50.00" textLength="7.07" lengthAdjust="spacingAndGlyphs" style="fill:#00aa00;stroke:#00aa00;">o</text>
<text x="337.57" y="50.00" textLength="7.05" lengthAdjust="spacingAndGlyphs" style="fill:#00aa00;stroke:#00aa00;">g</text>
<text x="348.33" y="50.00" textLength="7.45" lengthAdjust="spacingAndGlyphs" style="fill:#00aa00;stroke:#00aa00;">2</text>
<text x="198.03" y="155.90" textLength="8.09" lengthAdjust="spacingAndGlyphs" class="i" style="fill:#ff0000;stroke:#ff0000;">B</text>
<path d="M207.4 157.9 H213.9 M210.65 157.9 V152.7" fill="none" stroke="#ff0000" stroke-width="0.95"/>
<text x="214.92" y="155.90" textLength="3.64" lengthAdjust="spacingAndGlyphs" style="fill:#ff0000;stroke:#ff0000;">(</text>
<text x="218.90" y="155.90" textLength="8.10" lengthAdjust="spacingAndGlyphs" style="fill:#ff0000;stroke:#ff0000;">T</text>
<text x="227.16" y="156.00" textLength="7.69" lengthAdjust="spacingAndGlyphs" style="font-size:10.6px;fill:#ff0000;stroke:#ff0000;">=</text>
<text x="234.66" y="156.40" textLength="10.67" lengthAdjust="spacingAndGlyphs" style="font-size:10.8px;fill:#ff0000;stroke:#ff0000;">∞</text>
<text x="246.14" y="155.90" textLength="3.27" lengthAdjust="spacingAndGlyphs" style="fill:#ff0000;stroke:#ff0000;">)</text>
<text x="249.57" y="156.00" textLength="7.57" lengthAdjust="spacingAndGlyphs" style="font-size:10.6px;fill:#ff0000;stroke:#ff0000;">=</text>
<text x="265.74" y="146.40" textLength="7.74" lengthAdjust="spacingAndGlyphs" style="fill:#ff0000;stroke:#ff0000;">1</text>
<rect x="258.2" y="151.3" width="23.3" height="1.25" fill="#ff0000"/>
<path d="M259.40 164.80 L261.40 163.80 M264.00 170.60 L266.30 156.80 L281.20 156.80" fill="none" stroke="#ff0000" stroke-width="1.00" stroke-linejoin="miter"/><path d="M261.20 164.10 L263.75 169.70" fill="none" stroke="#ff0000" stroke-width="1.70"/>
<text x="270.08" y="169.30" textLength="7.94" lengthAdjust="spacingAndGlyphs" style="fill:#ff0000;stroke:#ff0000;">2</text>
<g transform="translate(12.2,147) rotate(-90)">
<text x="-0.15" y="0.00" textLength="5.98" lengthAdjust="spacingAndGlyphs" class="i">γ</text>
<text x="7.25" y="2.60" textLength="4.39" lengthAdjust="spacingAndGlyphs" class="i" style="font-size:10.4px;">x</text>
<text x="11.74" y="0.00" textLength="5.15" lengthAdjust="spacingAndGlyphs">(</text>
<text x="16.59" y="0.00" textLength="7.94" lengthAdjust="spacingAndGlyphs" style="font-size:14px;">e</text>
<text x="22.92" y="0.00" textLength="7.36" lengthAdjust="spacingAndGlyphs">,</text>
<text x="29.14" y="0.00" textLength="7.87" lengthAdjust="spacingAndGlyphs" class="i">B</text>
<path d="M38.6 2.3 H44.7 M41.65 2.3 V-2.5" fill="none" stroke="#000" stroke-width="0.95"/>
<text x="46.41" y="0.00" textLength="5.02" lengthAdjust="spacingAndGlyphs">)</text>
<text x="49.02" y="0.00" textLength="7.36" lengthAdjust="spacingAndGlyphs">,</text>
<text x="63.76" y="0.00" textLength="5.88" lengthAdjust="spacingAndGlyphs" class="i">γ</text>
<text x="69.86" y="2.60" textLength="4.77" lengthAdjust="spacingAndGlyphs" class="i" style="font-size:10.4px;">z</text>
<text x="73.86" y="0.00" textLength="5.02" lengthAdjust="spacingAndGlyphs">(</text>
<text x="78.89" y="0.00" textLength="7.94" lengthAdjust="spacingAndGlyphs" style="font-size:14px;">e</text>
<text x="87.31" y="0.00" textLength="5.02" lengthAdjust="spacingAndGlyphs">)</text>
</g>
</svg>
</body></html>
